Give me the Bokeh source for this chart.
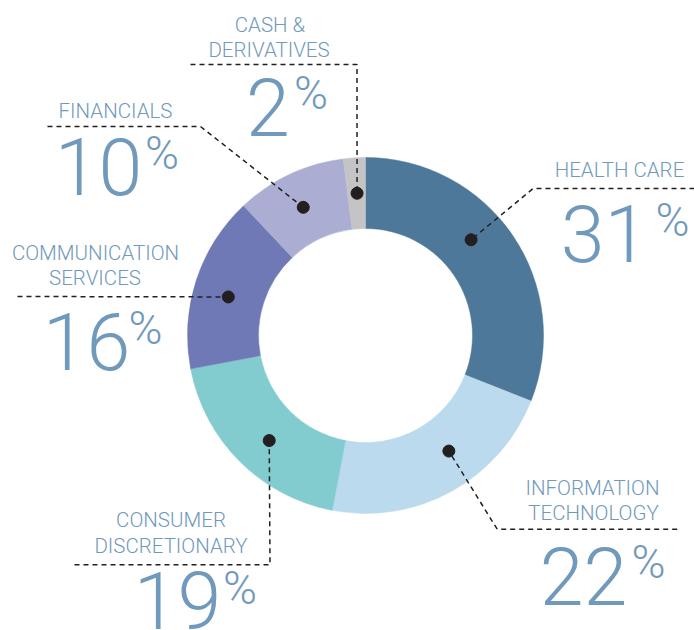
import math
from bokeh.plotting import figure
from bokeh.models import Range1d, ColumnDataSource
from bokeh.core.properties import value
from bokeh.embed import file_html
from bokeh.resources import INLINE

# ---------------- data ----------------
sectors = ["HEALTH CARE", "INFORMATION TECHNOLOGY", "CONSUMER DISCRETIONARY",
           "COMMUNICATION SERVICES", "FINANCIALS", "CASH & DERIVATIVES"]
label_lines = [["HEALTH CARE"], ["INFORMATION", "TECHNOLOGY"], ["CONSUMER", "DISCRETIONARY"],
               ["COMMUNICATION", "SERVICES"], ["FINANCIALS"], ["CASH &", "DERIVATIVES"]]
weights = [31, 22, 19, 16, 10, 2]
colors = ["#4E7899", "#BCDAEE", "#82CBCF", "#6F79B5", "#ABADD3", "#C4C3C6"]

# ---------------- layout (screen px in the 694x630 page) ----------------
TEXT = "#7099BC"
INK = "#231F20"
FONT = "Roboto Light"
LABEL_SIZE, NUM_SIZE, PCT_SIZE = 20.5, 79, 46
BASE_SHIFT = 0.345  # renderer's baseline offset, in em
CX, CY = 365, 335
R_OUT, R_IN = 178, 107
R_DOT = 142.5
# anchor angle of each dot, degrees clockwise from 12 o'clock
dot_angle = [47.8, 144.2, 222.5, 285.7, 334.1, 356.6]
# label line baselines (x centre, y baseline per line)
label_pos = [
    [(619, 177)],
    [(592, 495), (593, 520)],
    [(170.5, 527), (170.5, 553)],
    [(95, 260), (94.5, 285)],
    [(115, 118)],
    [(269.5, 32), (268.5, 57)],
]
# big number: (digits centre x, baseline y), (percent centre x, baseline y)
num_pos = [
    ((604, 260), (672, 235)),
    ((583, 603), (648, 577)),
    ((177, 627), (239.5, 603)),
    ((86, 368), (145, 343)),
    ((98, 193), (161.5, 168)),
    ((267.5, 134), (310.5, 108)),
]
# leader polylines (excluding the dot end), in order from far end toward dot
leaders = [
    [(694, 188), (532.7, 188)],
    [(676.7, 528.7), (496.7, 528.7)],
    [(74, 564.3), (269.5, 564.3)],
    [(17, 296)],
    [(47, 126), (200, 126)],
    [(190, 64), (356.5, 64)],
]

W, H = 694, 630


def Y(sy):
    return H - sy


def TY(sy, size):
    return H - (sy - BASE_SHIFT * size)


p = figure(width=W, height=H, output_backend="svg", toolbar_location=None,
           x_range=Range1d(0, W), y_range=Range1d(0, H),
           min_border=0, outline_line_color=None, background_fill_color="white",
           border_fill_color="white")
p.axis.visible = False
p.xgrid.visible = False
p.ygrid.visible = False

# wedges
total = float(sum(weights))
starts, ends, cum = [], [], 0.0
for w in weights:
    t0 = cum / total * 360.0
    cum += w
    t1 = cum / total * 360.0
    starts.append(math.radians(90 - t1))
    ends.append(math.radians(90 - t0))
src = ColumnDataSource(dict(x=[CX] * len(weights), y=[Y(CY)] * len(weights),
                            start=starts, end=ends, color=colors))
p.annular_wedge(x="x", y="y", inner_radius=R_IN, outer_radius=R_OUT,
                start_angle="start", end_angle="end", color="color",
                line_color="color", line_width=0.5, direction="anticlock", source=src)

# leaders and dots
dx, dy = [], []
for i in range(len(weights)):
    a = math.radians(dot_angle[i])
    px = CX + R_DOT * math.sin(a)
    py = CY - R_DOT * math.cos(a)
    dx.append(px)
    dy.append(Y(py))
    pts = leaders[i] + [(px, py)]
    p.line([q[0] for q in pts], [Y(q[1]) for q in pts], line_color=INK,
           line_width=1.5, line_dash="5 4")
p.scatter(dx, dy, size=12, color=INK, line_color=INK)

# labels
for i in range(len(weights)):
    for line, (lx, ly) in zip(label_lines[i], label_pos[i]):
        p.text([lx], [TY(ly, LABEL_SIZE)], text=[line], text_font=value(FONT),
               text_font_size=f"{LABEL_SIZE}px", text_color=TEXT, text_align="center",
               text_baseline="alphabetic")
    (nx, ny), (qx, qy) = num_pos[i]
    p.text([nx], [TY(ny, NUM_SIZE)], text=[str(weights[i])], text_font=value(FONT),
           text_font_size=f"{NUM_SIZE}px", text_color=TEXT, text_align="center",
           text_baseline="alphabetic")
    p.text([qx], [TY(qy, PCT_SIZE)], text=["%"], text_font=value(FONT),
           text_font_size=f"{PCT_SIZE}px", text_color=TEXT, text_align="center",
           text_baseline="alphabetic")

open("out.html", "w").write(file_html(p, INLINE))
